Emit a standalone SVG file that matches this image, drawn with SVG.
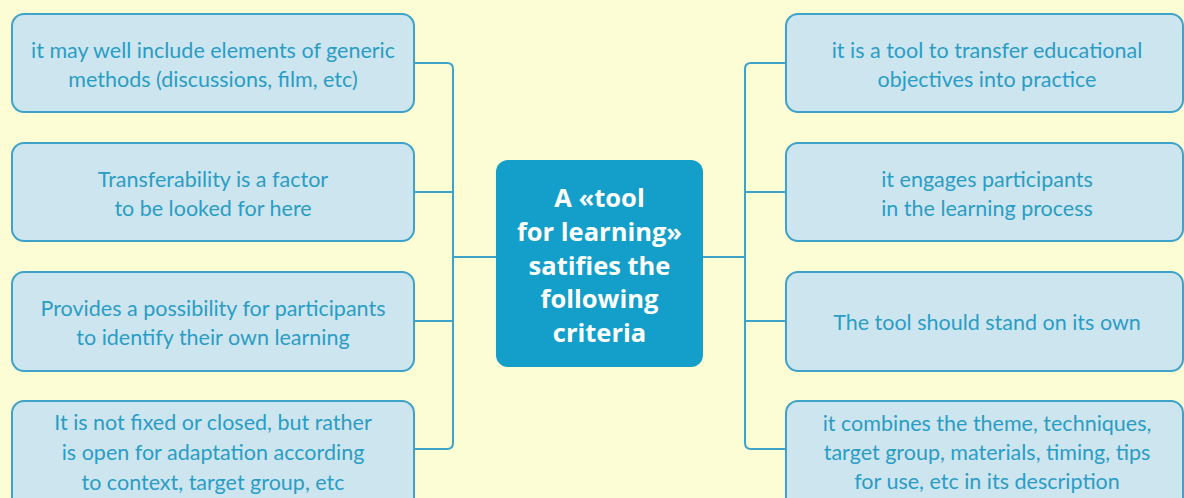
<svg xmlns="http://www.w3.org/2000/svg" width="1184" height="498" viewBox="0 0 1184 498">
  <style>
    .box { fill: #cde5ef; stroke: #3ea2c9; stroke-width: 2; }
    .hub { fill: #139fca; }
    .lbl { font-family: Lato, "Open Sans", sans-serif; font-size: 21.5px; fill: #2a9dc5; text-anchor: middle; }
    .hubt { font-family: "Open Sans", Lato, sans-serif; font-size: 25.5px; font-weight: bold; fill: #ffffff; text-anchor: middle; }
    .wire { fill: none; stroke: #3ea2c9; stroke-width: 2; }
  </style>
  <rect width="1184" height="498" fill="#fcfdd4"/>

  <g id="connectors">
    <path class="wire" d="M414,63 H447 Q453,63 453,69 V443 Q453,449 447,449 H414"/>
    <path class="wire" d="M414,192 H453 M414,321 H453 M453,257 H496"/>
    <path class="wire" d="M786,63 H751 Q745,63 745,69 V443 Q745,449 751,449 H786"/>
    <path class="wire" d="M786,192 H745 M786,321 H745 M745,257 H703"/>
  </g>

  <g id="hub">
    <rect class="hub" x="496" y="160" width="207" height="207" rx="12"/>
    <text class="hubt" x="599.5" y="207">A «tool</text>
    <text class="hubt" x="599.5" y="241">for learning»</text>
    <text class="hubt" x="599.5" y="275">satifies the</text>
    <text class="hubt" x="599.5" y="308">following</text>
    <text class="hubt" x="599.5" y="342">criteria</text>
  </g>

  <g id="left1">
    <rect class="box" x="12" y="14" width="402" height="98" rx="12"/>
    <text class="lbl" x="213" y="58">it may well include elements of generic</text>
    <text class="lbl" x="213" y="87">methods (discussions, film, etc)</text>
  </g>
  <g id="left2">
    <rect class="box" x="12" y="143" width="402" height="98" rx="12"/>
    <text class="lbl" x="213" y="187">Transferability is a factor</text>
    <text class="lbl" x="213" y="216">to be looked for here</text>
  </g>
  <g id="left3">
    <rect class="box" x="12" y="272" width="402" height="99" rx="12"/>
    <text class="lbl" x="213" y="316">Provides a possibility for participants</text>
    <text class="lbl" x="213" y="345">to identify their own learning</text>
  </g>
  <g id="left4">
    <rect class="box" x="12" y="401" width="402" height="108" rx="12"/>
    <text class="lbl" x="213" y="430">It is not fixed or closed, but rather</text>
    <text class="lbl" x="213" y="460">is open for adaptation according</text>
    <text class="lbl" x="213" y="490">to context, target group, etc</text>
  </g>

  <g id="right1">
    <rect class="box" x="786" y="14" width="397" height="98" rx="12"/>
    <text class="lbl" x="987" y="58">it is a tool to transfer educational</text>
    <text class="lbl" x="987" y="87">objectives into practice</text>
  </g>
  <g id="right2">
    <rect class="box" x="786" y="143" width="397" height="98" rx="12"/>
    <text class="lbl" x="987" y="187">it engages participants</text>
    <text class="lbl" x="987" y="216">in the learning process</text>
  </g>
  <g id="right3">
    <rect class="box" x="786" y="272" width="397" height="99" rx="12"/>
    <text class="lbl" x="987" y="330">The tool should stand on its own</text>
  </g>
  <g id="right4">
    <rect class="box" x="786" y="401" width="397" height="108" rx="12"/>
    <text class="lbl" x="987" y="431">it combines the theme, techniques,</text>
    <text class="lbl" x="987" y="460">target group, materials, timing, tips</text>
    <text class="lbl" x="987" y="489">for use, etc in its description</text>
  </g>
</svg>
